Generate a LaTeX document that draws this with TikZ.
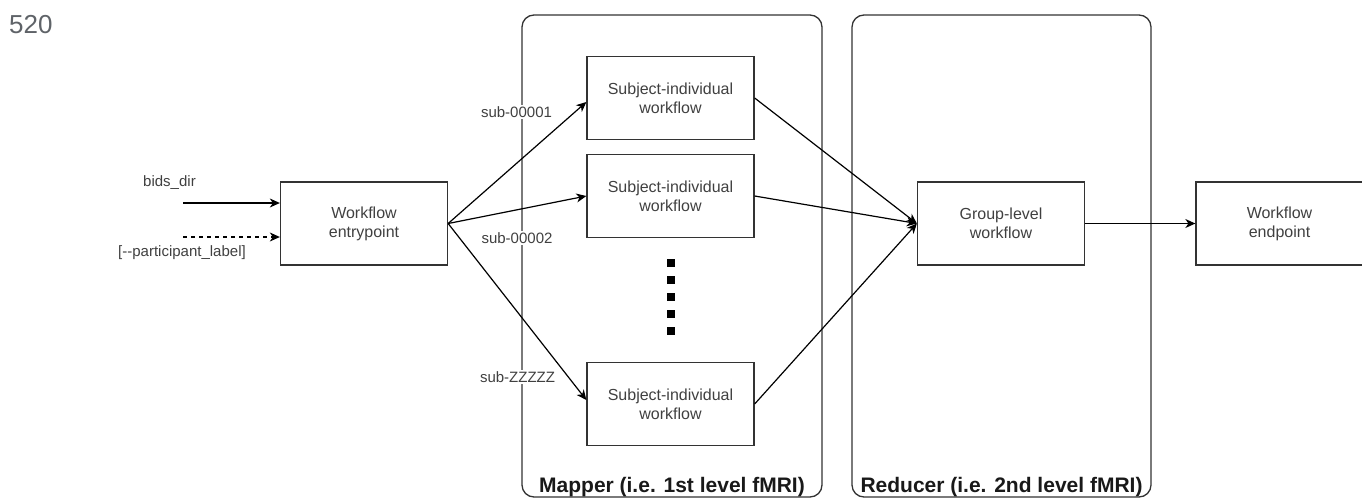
\documentclass[tikz,border=0pt]{standalone}
\usepackage{fontspec}
\setmainfont{Liberation Sans}
\usetikzlibrary{arrows.meta}
\definecolor{txtgray}{HTML}{404040}
\definecolor{pagegray}{HTML}{5F6368}
\definecolor{linegray}{HTML}{333333}
\tikzset{
  wfbox/.style={draw=linegray, line width=1.3pt, minimum width=167pt, minimum height=83pt,
    inner sep=0pt, align=center, text=txtgray, font=\fontsize{16}{19}\selectfont},
  container/.style={draw=linegray, line width=1.3pt, rounded corners=12pt},
  lbl/.style={fill=white, inner sep=1pt, text=txtgray, font=\fontsize{15}{18}\selectfont},
  title/.style={anchor=base, text=black!90, font=\fontsize{21}{25}\selectfont\bfseries},
  arr/.style={-{Stealth[length=10pt,width=9pt,inset=3pt]}, line width=1.2pt, draw=black},
  sq/.style={fill=black, minimum size=8pt, inner sep=0pt},
}
\begin{document}
\begin{tikzpicture}[x=1pt,y=-1pt]
\useasboundingbox (0,0) rectangle (1362,498);
% page number
\node[anchor=base west, inner sep=0pt, text=pagegray, font=\fontsize{26}{30}\selectfont] (pnum) at (9,33) {520};
% containers
\draw[container] (522,15) rectangle (822,497);
\draw[container] (852,15) rectangle (1151,497);
\node[title] (maplbl) at (672,492) {Mapper (i.e. 1st level fMRI)};
\node[title] (redlbl) at (1001.5,492) {Reducer (i.e. 2nd level fMRI)};
% edge labels
\node[lbl] (l1) at (516.5,112) {sub-00001};
\node[lbl] (l2) at (517,238) {sub-00002};
\node[lbl] (l3) at (517.5,377) {sub-ZZZZZ};
\node[lbl] (bids) at (169.5,183) {bids\_dir};
\node[lbl] (part) at (182,253) {[-{}-participant\_label]};
% boxes
\node[wfbox] (entry) at (364,223.5) {Workflow\\entrypoint};
\node[wfbox] (s1) at (670.5,98) {Subject-individual\\workflow};
\node[wfbox] (s2) at (670.5,196) {Subject-individual\\workflow};
\node[wfbox] (s3) at (670.5,404) {Subject-individual\\workflow};
\node[wfbox] (group) at (1001,223.5) {Group-level\\workflow};
\node[wfbox] (endp) at (1279.5,223.5) {Workflow\\endpoint};
% dots
\foreach \i/\yy in {1/263,2/280,3/297,4/314,5/331}
  \node[sq] (dot\i) at (671,\yy) {};
% inputs
\coordinate (in1) at (183,203);
\coordinate (in2) at (183,237);
\draw[arr] (in1) -- ([yshift=20.5pt]entry.west);
\draw[arr, dash pattern=on 4pt off 4pt] (in2) -- ([yshift=-13.5pt]entry.west);
% fan out
\draw[arr] (entry.east) -- ([yshift=-4pt]s1.west);
\draw[arr] (entry.east) -- (s2.west);
\draw[arr] (entry.east) -- ([yshift=4pt]s3.west);
% fan in
\draw[arr] (s1.east) -- (group.west);
\draw[arr] (s2.east) -- (group.west);
\draw[arr] (s3.east) -- (group.west);
\draw[arr] (group.east) -- (endp.west);
\end{tikzpicture}
\end{document}
